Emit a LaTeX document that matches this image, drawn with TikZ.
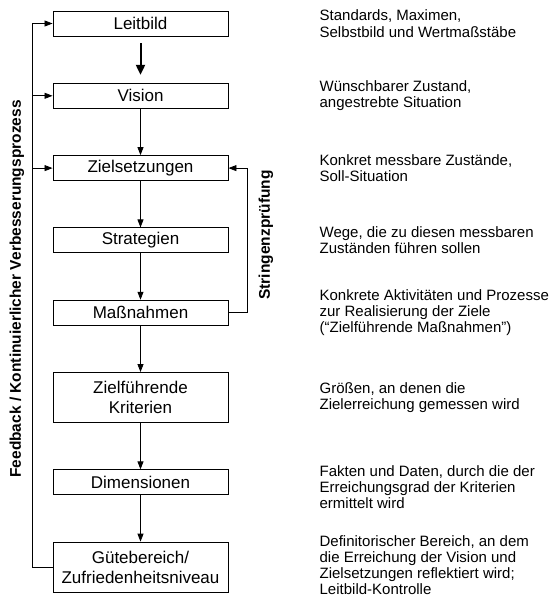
\documentclass[tikz,border=0pt]{standalone}
\usepackage{fontspec}
\setmainfont{Liberation Sans}
\usetikzlibrary{arrows.meta,positioning}

\begin{document}
\begin{tikzpicture}[x=1pt,y=-1pt,>={Triangle[length=8pt,width=6pt]},
  node distance=46.4pt,
  box/.style={draw,line width=0.9pt,minimum width=175pt,minimum height=25pt,inner sep=0pt,align=center,font=\fontsize{17}{20}\selectfont},
  desc/.style={align=left,inner sep=0pt,font=\fontsize{15}{16.3}\selectfont},
  side/.style={rotate=90,inner sep=0pt,font=\fontsize{15.5}{18}\selectfont\bfseries}]
  \useasboundingbox (0,0) rectangle (552,597);
  % Kette der Ebenen
  \node[box] (leit) at (140.5,23.5) {Leitbild};
  \node[box,below=of leit] (vis) {Vision};
  \node[box,below=of vis] (ziel) {Zielsetzungen};
  \node[box,below=of ziel] (strat) {Strategien};
  \node[box,below=of strat] (mass) {Maßnahmen};
  \node[box,minimum height=50pt,below=of mass] (krit) {Zielführende\\Kriterien};
  \node[box,below=of krit] (dim) {Dimensionen};
  \node[box,minimum height=50pt,below=of dim] (gute) {Gütebereich/\\Zufriedenheitsniveau};
  % Erlaeuterungen rechts
  \node[desc,right=91pt of leit] (dleit) {Standards, Maximen,\\Selbstbild und Wertmaßstäbe};
  \node[desc,right=91pt of vis] (dvis) {Wünschbarer Zustand,\\angestrebte Situation};
  \node[desc,right=91pt of ziel] (dziel) {Konkret messbare Zustände,\\Soll-Situation};
  \node[desc,right=91pt of strat] (dstrat) {Wege, die zu diesen messbaren\\Zuständen führen sollen};
  \node[desc,right=91pt of mass] (dmass) {Konkrete Aktivitäten und Prozesse\\zur Realisierung der Ziele\\(“Zielführende Maßnahmen”)};
  \node[desc,right=91pt of krit] (dkrit) {Größen, an denen die\\Zielerreichung gemessen wird};
  \node[desc,right=91pt of dim,yshift=-5pt] (ddim) {Fakten und Daten, durch die der\\Erreichungsgrad der Kriterien\\ermittelt wird};
  \node[desc,right=91pt of gute,yshift=2pt] (dgute) {Definitorischer Bereich, an dem\\die Erreichung der Vision und\\Zielsetzungen reflektiert wird;\\Leitbild-Kontrolle};
  % Pfeile
  \draw[-{Triangle[length=10pt,width=9pt]},line width=2pt] ([yshift=-7pt]leit.south) -- ([yshift=8pt]vis.north);
  \foreach \a/\b in {vis/ziel,ziel/strat,strat/mass,mass/krit,krit/dim,dim/gute}
    \draw[->,line width=0.8pt] (\a) -- (\b);
  \draw[->,line width=0.8pt] (gute.west) -- ++(-20,0) coordinate (fb) |- (leit.west);
  \draw[->,line width=0.8pt] (fb |- vis.west) -- (vis.west);
  \draw[->,line width=0.8pt] (fb |- ziel.west) -- (ziel.west);
  \draw[->,line width=0.8pt] (mass.east) -- ++(19,0) |- (ziel.east);
  \node[side] (fbl) at (17,289) {Feedback / Kontinuierlicher Verbesserungsprozess};
  \node[side] (strl) at (266,235) {Stringenzprüfung};
\end{tikzpicture}
\end{document}
